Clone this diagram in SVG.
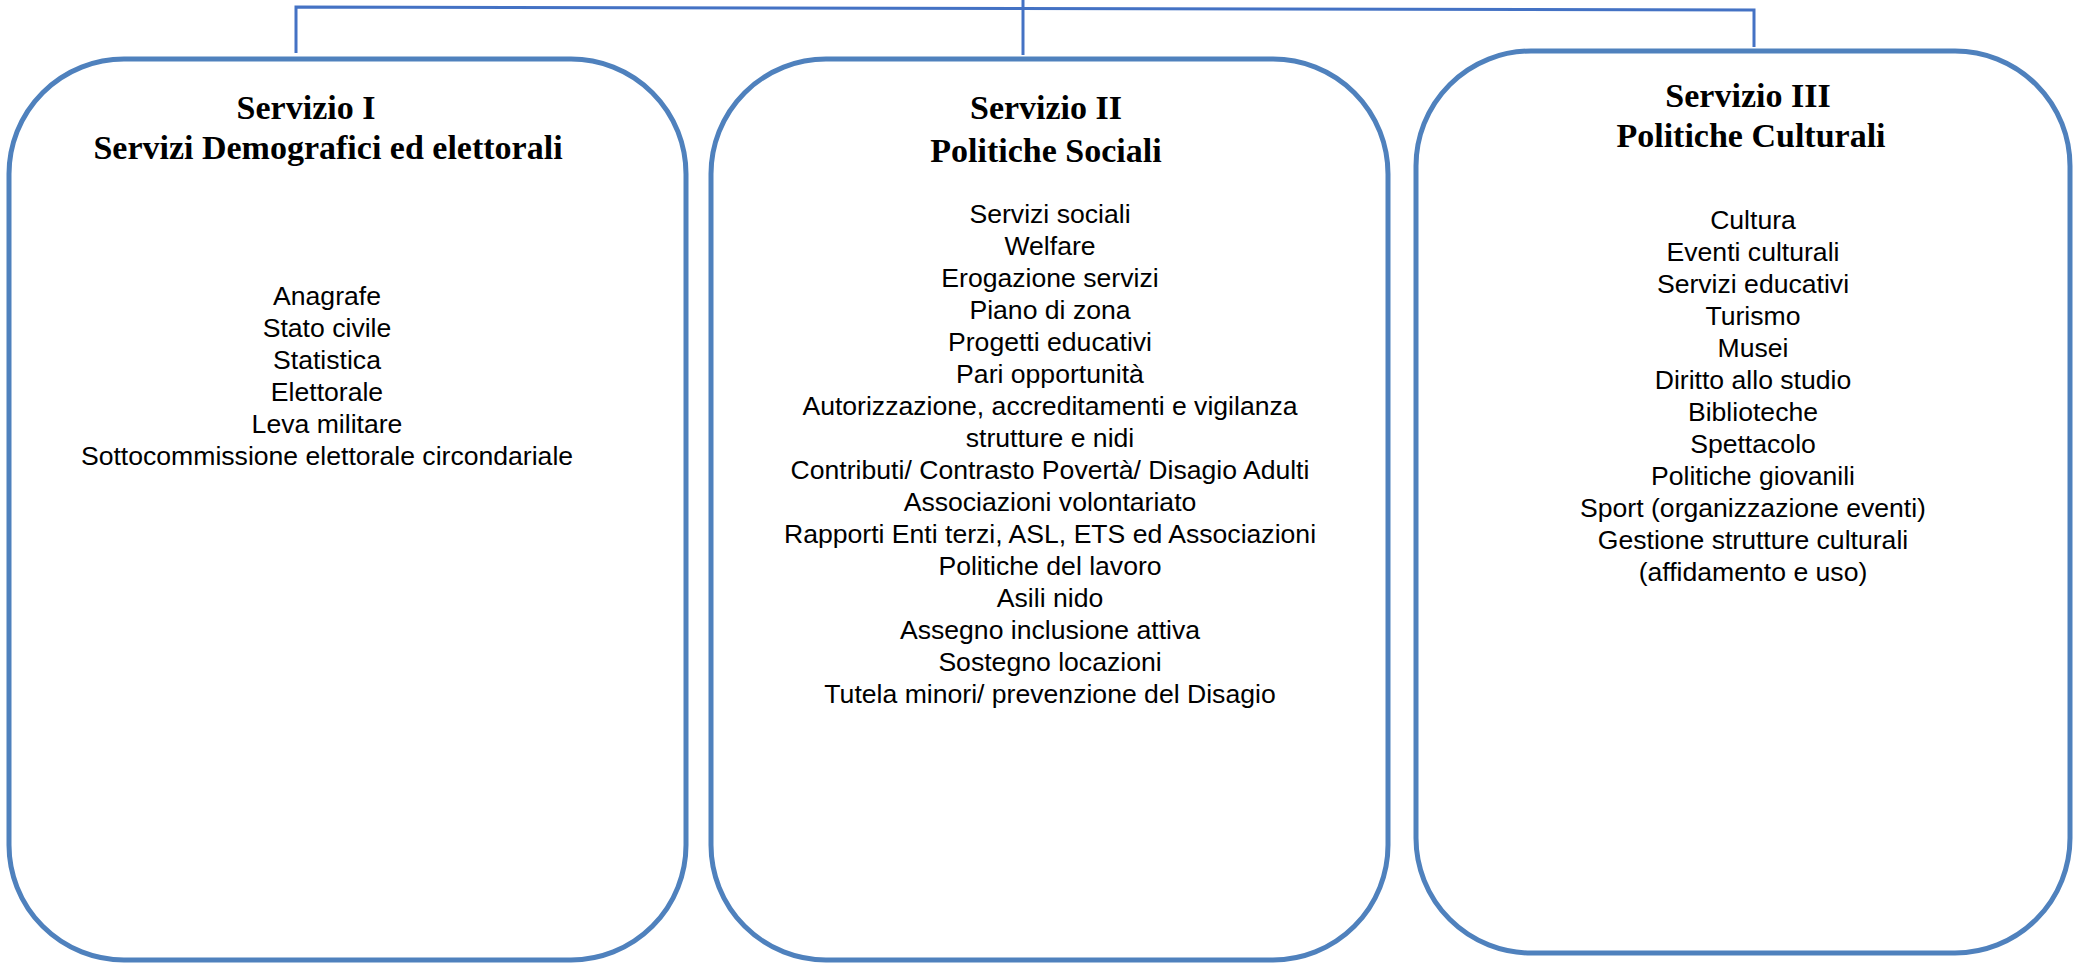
<svg xmlns="http://www.w3.org/2000/svg" width="2076" height="965" viewBox="0 0 2076 965">
<style>
.box{fill:#ffffff;stroke:#4F81BD;stroke-width:5}
.conn{fill:none;stroke:#4472C4;stroke-width:3}
.title{font-family:"Liberation Serif","Times New Roman",serif;font-weight:bold;font-size:34px;fill:#000;text-anchor:middle}
.body{font-family:"Liberation Sans",Arial,sans-serif;font-size:26.6px;fill:#000;text-anchor:middle}
</style>
<rect width="2076" height="965" fill="#ffffff"/>
<g id="connectors">
<polyline class="conn" points="296,53 296,7 1754,10 1754,47"/>
<line class="conn" x1="1023" y1="0" x2="1023" y2="55"/>
</g>
<g id="servizio1">
<rect class="box" x="9" y="59" width="677" height="901" rx="115" ry="115"/>
<text class="title" x="306" y="119">Servizio I</text>
<text class="title" x="328" y="159">Servizi Demografici ed elettorali</text>
<text class="body" x="327" y="305">Anagrafe</text>
<text class="body" x="327" y="337">Stato civile</text>
<text class="body" x="327" y="369">Statistica</text>
<text class="body" x="327" y="401">Elettorale</text>
<text class="body" x="327" y="433">Leva militare</text>
<text class="body" x="327" y="465">Sottocommissione elettorale circondariale</text>
</g>
<g id="servizio2">
<rect class="box" x="711" y="59" width="677" height="901" rx="115" ry="115"/>
<text class="title" x="1046" y="119">Servizio II</text>
<text class="title" x="1046" y="162">Politiche Sociali</text>
<text class="body" x="1050" y="223">Servizi sociali</text>
<text class="body" x="1050" y="255">Welfare</text>
<text class="body" x="1050" y="287">Erogazione servizi</text>
<text class="body" x="1050" y="319">Piano di zona</text>
<text class="body" x="1050" y="351">Progetti educativi</text>
<text class="body" x="1050" y="383">Pari opportunità</text>
<text class="body" x="1050" y="415">Autorizzazione, accreditamenti e vigilanza</text>
<text class="body" x="1050" y="447">strutture e nidi</text>
<text class="body" x="1050" y="479">Contributi/ Contrasto Povertà/ Disagio Adulti</text>
<text class="body" x="1050" y="511">Associazioni volontariato</text>
<text class="body" x="1050" y="543">Rapporti Enti terzi, ASL, ETS ed Associazioni</text>
<text class="body" x="1050" y="575">Politiche del lavoro</text>
<text class="body" x="1050" y="607">Asili nido</text>
<text class="body" x="1050" y="639">Assegno inclusione attiva</text>
<text class="body" x="1050" y="671">Sostegno locazioni</text>
<text class="body" x="1050" y="703">Tutela minori/ prevenzione del Disagio</text>
</g>
<g id="servizio3">
<rect class="box" x="1416" y="51" width="654" height="902" rx="115" ry="115"/>
<text class="title" x="1748" y="107">Servizio III</text>
<text class="title" x="1751" y="147">Politiche Culturali</text>
<text class="body" x="1753" y="229">Cultura</text>
<text class="body" x="1753" y="261">Eventi culturali</text>
<text class="body" x="1753" y="293">Servizi educativi</text>
<text class="body" x="1753" y="325">Turismo</text>
<text class="body" x="1753" y="357">Musei</text>
<text class="body" x="1753" y="389">Diritto allo studio</text>
<text class="body" x="1753" y="421">Biblioteche</text>
<text class="body" x="1753" y="453">Spettacolo</text>
<text class="body" x="1753" y="485">Politiche giovanili</text>
<text class="body" x="1753" y="517">Sport (organizzazione eventi)</text>
<text class="body" x="1753" y="549">Gestione strutture culturali</text>
<text class="body" x="1753" y="581">(affidamento e uso)</text>
</g>
</svg>
